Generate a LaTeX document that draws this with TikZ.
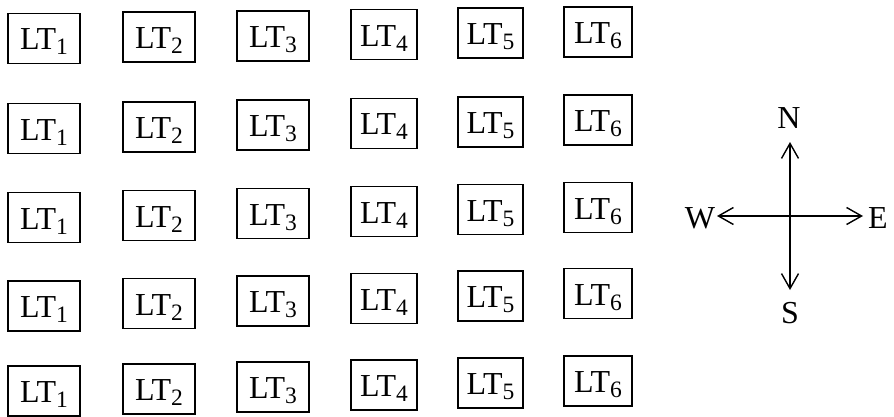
\documentclass[tikz,border=0pt]{standalone}
\usepackage{fontspec}
\setmainfont{Liberation Serif}
\usetikzlibrary{arrows.meta}
\newcommand{\ltlab}[1]{LT\raisebox{-5pt}{\fontsize{23.5}{23.5}\selectfont #1}}
\begin{document}
\begin{tikzpicture}[x=1pt,y=1pt,
  ltbox/.style={draw, line width=1.6pt, inner sep=0pt, minimum height=50pt,
    text height=25pt, text depth=2pt, font=\fontsize{32}{32}\selectfont},
  compass/.style={font=\fontsize{32}{32}\selectfont, inner sep=0pt,
    text height=21pt, text depth=0pt},
  arr/.style={line width=1.4pt, -{Straight Barb[length=15pt,width=17pt]}}]
\useasboundingbox (0,0) rectangle (894,416);
\foreach \r/\yy/\tl in {1/38.5/1.3, 2/128.5/1.7, 3/217.5/2, 4/306/2.5, 5/391/2} {
  \foreach \c/\xx/\ww in {1/44/72, 2/159/72, 3/273/72, 4/384/66, 5/490.5/65, 6/598/68} {
    \node[ltbox, minimum width=\ww] (b\r\c) at (\xx, {416-\yy+\tl*(\c-1)}) {\ltlab{\c}};
  }
}
\coordinate (ctr) at (790,200);
\coordinate (ntip) at (790,274);
\coordinate (stip) at (790,126);
\coordinate (wtip) at (717,200);
\coordinate (etip) at (863,200);
\node[compass] (N) at (789,298.5) {N};
\node[compass] (S) at (790,103) {S};
\node[compass] (W) at (700,198) {W};
\node[compass] (E) at (878,198) {E};
\draw[arr] (ctr) -- (ntip);
\draw[arr] (ctr) -- (stip);
\draw[arr] (ctr) -- (wtip);
\draw[arr] (ctr) -- (etip);
\end{tikzpicture}
\end{document}
